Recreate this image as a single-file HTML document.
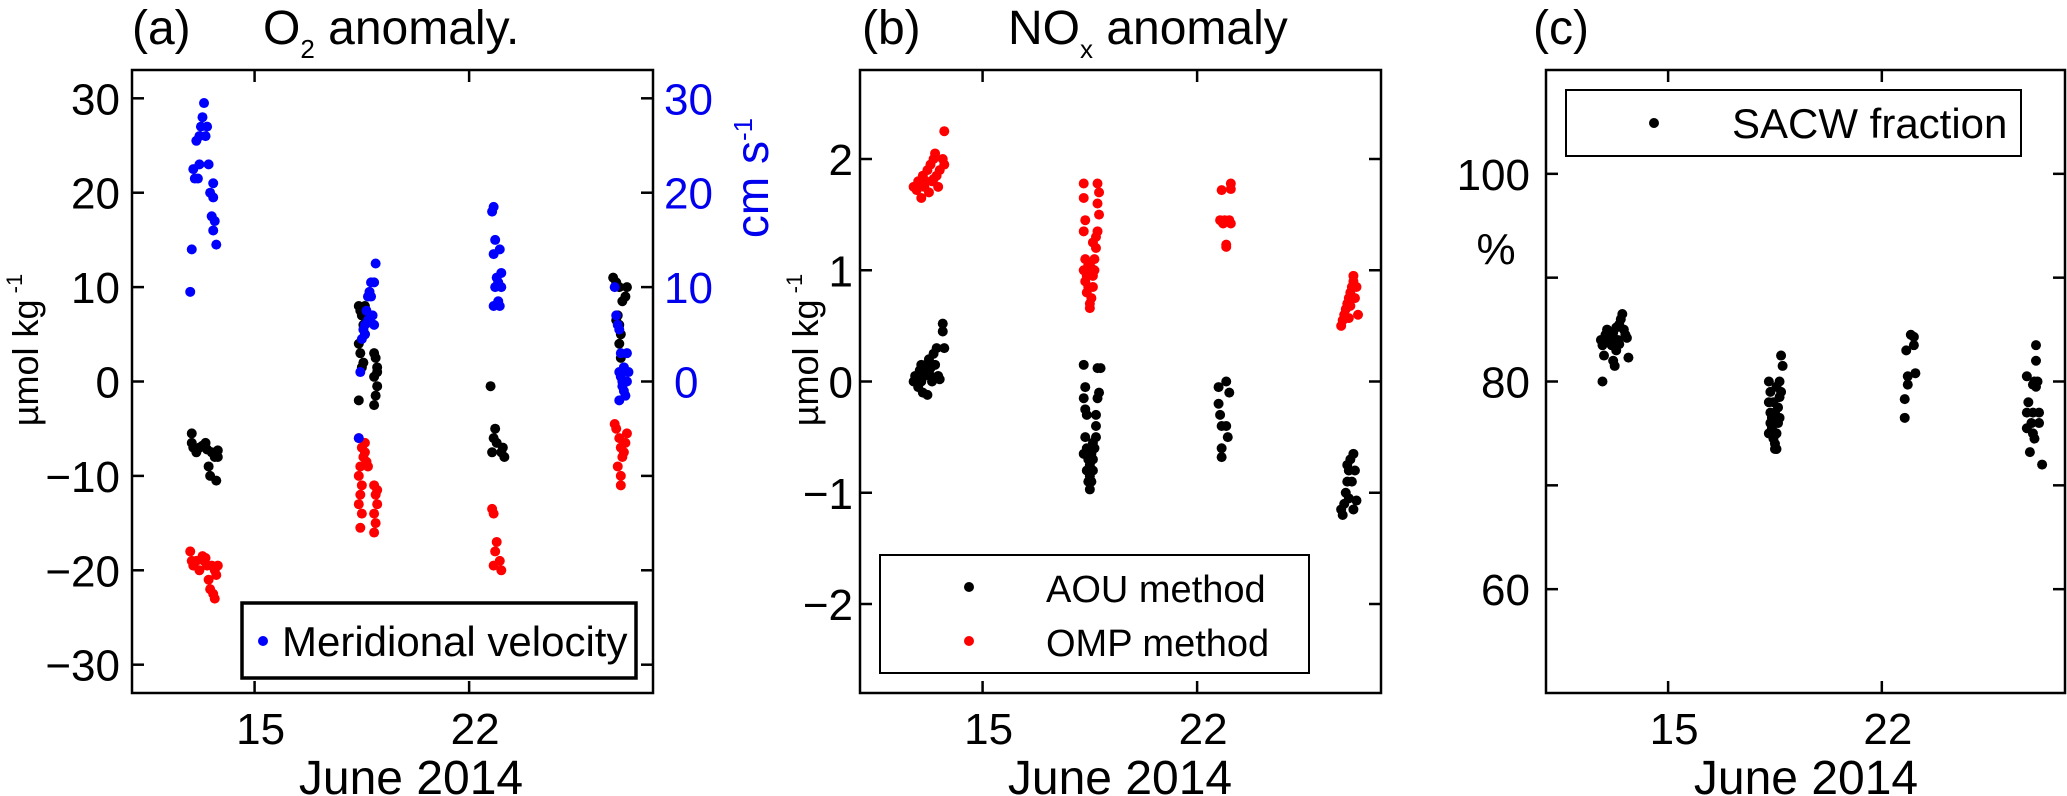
<!DOCTYPE html>
<html><head><meta charset="utf-8"><style>
html,body{margin:0;padding:0;background:#fff;}
svg{display:block;font-family:"Liberation Sans",sans-serif;}
</style></head><body>
<svg id="fig" width="2067" height="796" viewBox="0 0 2067 796" xmlns="http://www.w3.org/2000/svg">
<text x="132" y="44" font-size="48">(a)</text>
<text x="263" y="44" font-size="48">O<tspan font-size="26" dy="14">2</tspan><tspan dy="-14"> anomaly.</tspan></text>
<text transform="translate(38,350) rotate(-90)" text-anchor="middle" font-size="36">µmol kg<tspan font-size="22" dy="-16"> -1</tspan></text>
<text transform="translate(768,178) rotate(-90)" text-anchor="middle" font-size="46" fill="#0000ee">cm s<tspan font-size="26" dy="-16">-1</tspan></text>
<text x="411" y="794" text-anchor="middle" font-size="48">June 2014</text>
<text x="862" y="44" font-size="48">(b)</text>
<text x="1008" y="44" font-size="48">NO<tspan font-size="26" dy="14">x</tspan><tspan dy="-14"> anomaly</tspan></text>
<text transform="translate(818,350) rotate(-90)" text-anchor="middle" font-size="36">µmol kg<tspan font-size="22" dy="-16"> -1</tspan></text>
<text x="1120" y="794" text-anchor="middle" font-size="48">June 2014</text>
<text x="1533" y="44" font-size="48">(c)</text>
<text x="1496" y="264" text-anchor="middle" font-size="44">%</text>
<text x="1806" y="794" text-anchor="middle" font-size="48">June 2014</text>
</svg>
<script>
const dayTicks = [15, 22];
const dayRange = [11, 28];
// Panel a
const aYTicks = [-30, -20, -10, 0, 10, 20, 30];
const aRightTickLabels = [0, 10, 20, 30];
const aBlackX = [12.95,12.95,13.0,13.1,13.2,13.3,13.4,13.45,13.5,13.55,13.6,13.7,13.75,13.8,13.8, 18.4,18.45,18.5,18.55,18.6,18.4,18.45,18.5,18.4,18.6,18.7,18.65,18.9,18.95,19.0,18.9,19.0,18.95,18.9,19.0,18.55, 22.7,22.85,22.8,22.9,22.75,23.1,23.05,23.15, 26.7,26.8,26.9,27.1,27.15,27.0,26.85,26.9,26.95,26.9,26.95,26.8];
const aBlackY = [-5.5,-6.5,-7,-7.5,-7,-6.8,-6.5,-7.2,-9,-10,-7.5,-8,-10.5,-7.3,-8, 8,7.5,7,6,5,4,3,1.5,-2,8,7,6.5,3,2.5,1.5,0.5,-0.5,-1.5,-2.5,1,2, -0.5,-5,-6,-6.5,-7.5,-7,-7.5,-8, 11,10.5,10,9,10,8.5,7,6,5,4,2.5,6.5];
const aRedX = [12.9,12.95,13.0,13.1,13.2,13.3,13.35,13.45,13.5,13.55,13.6,13.7,13.75,13.7,13.65,13.8,13.4, 18.4,18.5,18.55,18.45,18.4,18.5,18.45,18.4,18.5,18.45,18.6,18.65,18.7,18.9,18.95,19.0,18.9,18.95,18.9,19.0,18.6, 22.75,22.8,22.9,22.85,22.8,23.0,23.05, 26.75,26.8,26.9,26.95,27.0,26.85,26.95,26.95,27.1,27.15,27.05];
const aRedY = [-18,-19,-19.5,-19,-20,-18.5,-19,-19.5,-21,-22,-19.5,-20,-20.5,-23,-22.5,-19.5,-18.7, -6,-7,-8,-9,-10,-11,-12,-13,-14,-15.5,-7.5,-8.5,-9,-11,-12,-13,-14,-15,-16,-11.5,-6.5, -13.5,-14,-17,-18,-19.5,-19,-20, -4.5,-5,-6,-7,-8,-9,-10,-11,-6.5,-5.5,-7.5];
const aBlueX = [12.9,12.95,13.0,13.05,13.15,13.1,13.2,13.25,13.3,13.35,13.4,13.2,13.5,13.55,13.65,13.6,13.65,13.7,13.75,13.65,13.45, 18.4,18.45,18.5,18.55,18.6,18.65,18.7,18.75,18.8,18.9,18.95,18.9,18.85,18.7,18.8,18.6, 22.75,22.8,22.85,22.8,23.0,23.05,22.9,22.85,22.95,22.8,22.95,23.0,23.05, 26.75,26.8,26.85,26.9,26.95,26.9,26.95,27.0,27.05,26.9,27.1,27.15,27.2,27.15,27.0,27.05];
const aBlueY = [9.5,14,22.5,21.5,21.5,25.5,26,27,28,29.5,26,23,23,20,19.5,17.5,16,17,14.5,21,27, -6,1,4.5,5.5,6,7.5,9,9.5,10.5,10.5,12.5,6,7,6.5,9,5, 18,18.5,15,13.5,14,11.5,11,10,10.5,8,8.5,8,10, 10,7,6,5.5,3,1,0.5,0,-1,-2,-1.5,0,1,3,-0.5,1.5];
// Panel b
const bYTicks = [-2, -1, 0, 1, 2];
const bBlackX = [12.75,12.8,12.9,12.95,13.0,13.05,13.1,13.15,13.2,13.25,13.3,13.35,13.4,13.45,13.5,13.55,13.1,13.0,13.3,13.7,13.7,13.75,13.2,13.6, 18.3,18.35,18.3,18.35,18.4,18.35,18.4,18.3,18.45,18.5,18.4,18.5,18.45,18.5,18.55,18.6,18.6,18.65,18.7,18.7,18.75,18.8,18.75,18.85,18.7,18.55,18.6, 22.7,22.95,22.7,22.75,22.8,22.95,23.0,22.8,22.8,23.05, 26.7,26.75,26.8,26.85,26.9,26.95,27.0,27.1,27.05,27.15,27.2,26.9,26.95,27.1];
const bBlackY = [0,0.05,-0.05,0.1,0,-0.1,0.05,0.15,0.1,0.2,0.05,0,0.25,0.15,0.3,0.05,0.1,0.15,0.12,0.45,0.52,0.3,-0.12,0.02, 0.15,-0.05,-0.15,-0.25,-0.3,-0.5,-0.6,-0.65,-0.7,-0.75,-0.8,-0.85,-0.9,-0.97,-0.9,-0.8,-0.7,-0.6,-0.5,-0.3,-0.15,-0.1,0.12,0.12,-0.4,-0.65,-0.55, -0.05,0,-0.2,-0.3,-0.4,-0.4,-0.5,-0.6,-0.68,-0.1, -1.15,-1.2,-1.1,-1.0,-0.9,-0.8,-0.7,-0.65,-0.9,-0.8,-1.07,-0.75,-1.05,-1.15];
const bRedX = [12.75,12.85,12.9,13.0,13.05,13.1,13.2,13.25,13.3,13.35,13.4,13.45,13.5,13.55,13.6,13.7,13.75,13.75,13.15,12.95,13.4, 18.3,18.3,18.35,18.3,18.35,18.3,18.4,18.35,18.45,18.4,18.5,18.5,18.45,18.55,18.6,18.6,18.65,18.65,18.7,18.7,18.75,18.8,18.75,18.8,18.75,18.6,18.55, 22.8,23.1,23.1,22.75,22.85,22.9,23.05,23.1,22.95,22.95, 26.7,26.75,26.8,26.85,26.9,26.95,27.0,27.05,27.1,27.1,27.15,27.2,27.25,26.95,27.0];
const bRedY = [1.75,1.72,1.8,1.65,1.85,1.75,1.9,1.7,1.95,1.8,2.0,2.05,1.85,1.75,1.9,2.0,2.25,1.95,1.8,1.77,1.82, 1.78,1.65,1.45,1.35,1.1,1.0,0.95,0.9,0.85,0.8,0.7,0.66,1.05,0.75,0.85,0.95,1.0,1.1,1.2,1.3,1.35,1.5,1.6,1.7,1.78,1.25,1.02, 1.72,1.78,1.73,1.45,1.42,1.45,1.45,1.42,1.23,1.21, 0.5,0.55,0.6,0.65,0.7,0.75,0.8,0.85,0.9,0.95,0.75,0.85,0.6,0.57,0.68];
// Panel c
const cYTicks = [60, 70, 80, 90, 100];
const cYTickLabels = [60, 80, 100];
const cX = [12.8,12.85,12.9,12.85,12.95,13.0,13.05,13.1,13.15,13.2,13.25,13.2,13.3,13.35,13.4,13.45,13.5,13.55,13.6,13.65,13.7,13.3,13.0,13.4, 18.3,18.35,18.3,18.35,18.4,18.35,18.4,18.3,18.45,18.5,18.55,18.5,18.55,18.6,18.65,18.6,18.65,18.7,18.65,18.75,18.7,18.5,18.45,18.55, 22.75,22.75,22.85,22.85,22.8,22.95,23.05,23.05,23.1, 26.75,26.8,26.75,26.75,26.85,26.9,26.95,26.95,27.0,26.95,27.0,27.05,27.1,27.05,27.05,27.15,27.15,27.25];
const cY = [84,83.5,82.5,80,84.5,85,83.8,84.2,83.5,82,81.5,84.7,85.2,84,83.6,86,86.5,85,84.5,84.2,82.3,83,84,85.5, 80,79,78,77,76.5,76,75.5,75,74.5,73.5,73.5,74,75,76,76.5,77.5,78.5,79,80,81.5,82.5,77,78,79.5, 76.5,78.3,79.7,80.5,83,84.5,84.3,83.5,80.8, 80.5,78,77,75.5,73.2,76,77,75,74.5,79.7,80,79.5,80,82,83.5,76,77,72];

const NS = 'http://www.w3.org/2000/svg';
const svg = document.getElementById('fig');
function mk(tag, attrs) { const e = document.createElementNS(NS, tag); for (const k in attrs) e.setAttribute(k, attrs[k]); svg.appendChild(e); return e; }
function panel(x0, x1, y0, y1, ylim) {
  const sx = d => x0 + (d - dayRange[0]) / (dayRange[1] - dayRange[0]) * (x1 - x0);
  const sy = v => y1 - (v - ylim[0]) / (ylim[1] - ylim[0]) * (y1 - y0);
  return { sx, sy, x0, x1, y0, y1 };
}
function frame(p, name, yTicks, yLabels, labelRight) {
  const box = mk('rect', { x: p.x0, y: p.y0, width: p.x1 - p.x0, height: p.y1 - p.y0, fill: 'none', stroke: '#000', 'stroke-width': 2.5 });
  
  
  dayTicks.forEach(d => {
    const x = p.sx(d);
    mk('line', { x1: x, x2: x, y1: p.y1, y2: p.y1 - 12, stroke: '#000', 'stroke-width': 2.5 });
    mk('line', { x1: x, x2: x, y1: p.y0, y2: p.y0 + 12, stroke: '#000', 'stroke-width': 2.5 });
    const t = mk('text', { x: x + 6, y: p.y1 + 51, 'text-anchor': 'middle', 'font-size': 44 });
    t.textContent = d;
    
    
  });
  yTicks.forEach(v => {
    const y = p.sy(v);
    mk('line', { x1: p.x0, x2: p.x0 + 12, y1: y, y2: y, stroke: '#000', 'stroke-width': 2.5 });
    mk('line', { x1: p.x1, x2: p.x1 - 12, y1: y, y2: y, stroke: '#000', 'stroke-width': 2.5 });
  });
  yLabels.forEach(v => {
    const t = mk('text', { x: labelRight, y: p.sy(v) + 16, 'text-anchor': 'end', 'font-size': 44 });
    t.textContent = v < 0 ? '\u2212' + Math.abs(v) : v;
    
    
  });
}
function dots(p, xs, ys, color, name) {
  xs.forEach((d, i) => {
    const c = mk('circle', { cx: p.sx(d), cy: p.sy(ys[i]), r: 5, fill: color });
    
    
  });
}
const Y0 = 70, Y1 = 693;
// Panel a
const pa = panel(132, 653, Y0, Y1, [-33, 33]);
frame(pa, 'panel-a', aYTicks, aYTicks, 120);
aRightTickLabels.forEach(v => {
  const t = mk('text', { x: v === 0 ? 674 : 664, y: pa.sy(v) + 16, 'font-size': 44, fill: '#0000ee' });
  t.textContent = v;
  
  
});
dots(pa, aBlackX, aBlackY, '#000', 'o2-aou-point');
dots(pa, aRedX, aRedY, '#ff0000', 'o2-omp-point');
dots(pa, aBlueX, aBlueY, '#0000ff', 'velocity-point');
const la = mk('rect', { x: 242, y: 603, width: 394, height: 75, fill: '#fff', stroke: '#000', 'stroke-width': 3.5 });


mk('circle', { cx: 263, cy: 641, r: 5, fill: '#0000ff' });
const lat = mk('text', { x: 282, y: 656, 'font-size': 42 });
lat.textContent = 'Meridional velocity';


// Panel b
const pb = panel(860, 1381, Y0, Y1, [-2.8, 2.8]);
frame(pb, 'panel-b', bYTicks, bYTicks, 853);
dots(pb, bBlackX, bBlackY, '#000', 'nox-aou-point');
dots(pb, bRedX, bRedY, '#ff0000', 'nox-omp-point');
const lb = mk('rect', { x: 880, y: 555, width: 429, height: 118, fill: '#fff', stroke: '#000', 'stroke-width': 2 });


mk('circle', { cx: 969, cy: 587, r: 5, fill: '#000' });
mk('circle', { cx: 969, cy: 641, r: 5, fill: '#ff0000' });
const lb1 = mk('text', { x: 1046, y: 602, 'font-size': 38 });
lb1.textContent = 'AOU method';


const lb2 = mk('text', { x: 1046, y: 656, 'font-size': 38 });
lb2.textContent = 'OMP method';


// Panel c
const pc = panel(1546, 2065, Y0, Y1, [50, 110]);
frame(pc, 'panel-c', cYTicks, cYTickLabels, 1530);
dots(pc, cX, cY, '#000', 'sacw-point');
const lc = mk('rect', { x: 1566, y: 90, width: 455, height: 66, fill: '#fff', stroke: '#000', 'stroke-width': 2 });


mk('circle', { cx: 1654, cy: 123, r: 5, fill: '#000' });
const lct = mk('text', { x: 1732, y: 138, 'font-size': 42 });
lct.textContent = 'SACW fraction';


</script>
</body></html>
